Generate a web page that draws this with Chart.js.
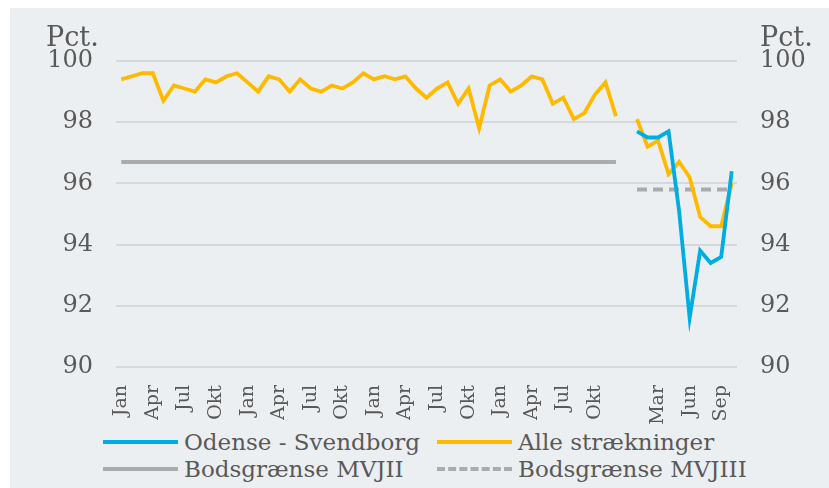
<!DOCTYPE html>
<html>
<head>
<meta charset="utf-8">
<script src="https://cdn.jsdelivr.net/npm/chart.js@4"></script>
<style>
  body { margin: 0; width: 829px; height: 488px; overflow: hidden; background: #fff; }
  #panel { position: absolute; left: 10px; top: 8px; width: 819px; height: 480px; background: #ECEFF2; }
  #wrap { position: absolute; left: 0; top: 0; width: 819px; height: 420px; }
  #legend { position: absolute; left: 0; top: 420px; width: 819px; height: 60px;
            font-family: "DejaVu Serif", serif; font-size: 23px; color: #595959; }
  .item { position: absolute; display: flex; align-items: center; height: 28px; }
  .swatch { width: 75px; height: 0; margin-right: 6px; }
</style>
</head>
<body>
<div id="panel">
  <div id="wrap"><canvas id="chart"></canvas></div>
  <div id="legend"></div>
</div>
<script>
// tick labels: 4 years of months, a blank slot, then Jan-Okt of year 5
var labels = [
  'Jan','','','Apr','','','Jul','','','Okt','','',
  'Jan','','','Apr','','','Jul','','','Okt','','',
  'Jan','','','Apr','','','Jul','','','Okt','','',
  'Jan','','','Apr','','','Jul','','','Okt','','',
  '',
  '','','Mar','','','Jun','','','Sep',''
];

var odenseSvendborg = [
  null,null,null,null,null,null,null,null,null,null,null,null,
  null,null,null,null,null,null,null,null,null,null,null,null,
  null,null,null,null,null,null,null,null,null,null,null,null,
  null,null,null,null,null,null,null,null,null,null,null,null,
  null,
  97.7,97.5,97.5,97.7,95.1,91.6,93.8,93.4,93.6,96.4
];

var alleStraekninger = [
  99.4,99.5,99.6,99.6,98.7,99.2,99.1,99.0,99.4,99.3,99.5,99.6,
  99.3,99.0,99.5,99.4,99.0,99.4,99.1,99.0,99.2,99.1,99.3,99.6,
  99.4,99.5,99.4,99.5,99.1,98.8,99.1,99.3,98.6,99.1,97.8,99.2,
  99.4,99.0,99.2,99.5,99.4,98.6,98.8,98.1,98.3,98.9,99.3,98.2,
  null,
  98.1,97.2,97.4,96.3,96.7,96.2,94.9,94.6,94.6,96.0
];

var bodsMVJII = [
  96.7,96.7,96.7,96.7,96.7,96.7,96.7,96.7,96.7,96.7,96.7,96.7,
  96.7,96.7,96.7,96.7,96.7,96.7,96.7,96.7,96.7,96.7,96.7,96.7,
  96.7,96.7,96.7,96.7,96.7,96.7,96.7,96.7,96.7,96.7,96.7,96.7,
  96.7,96.7,96.7,96.7,96.7,96.7,96.7,96.7,96.7,96.7,96.7,96.7,
  null,
  null,null,null,null,null,null,null,null,null,null
];

var bodsMVJIII = [
  null,null,null,null,null,null,null,null,null,null,null,null,
  null,null,null,null,null,null,null,null,null,null,null,null,
  null,null,null,null,null,null,null,null,null,null,null,null,
  null,null,null,null,null,null,null,null,null,null,null,null,
  null,
  95.8,95.8,95.8,95.8,95.8,95.8,95.8,95.8,95.8,95.8
];

var textColor = '#595959';
var serif = '"DejaVu Serif", serif';

// "Pct." above both y axes
var axisUnits = {
    id: 'axisUnits',
    afterDraw(chart) {
        let ctx = chart.ctx;
        ctx.save();
        ctx.font = '27px ' + serif;
        ctx.fillStyle = textColor;
        ctx.textBaseline = 'middle';
        ctx.textAlign = 'left';
        ctx.fillText('Pct.', 36, 31);
        ctx.fillText('Pct.', chart.scales.y2.left + 23, 31);
        ctx.restore();
    }
};

function lineSet(label, data, color, dash) {
    return {
        label: label,
        data: data,
        borderColor: color,
        backgroundColor: color,
        borderWidth: 3.8,
        borderDash: dash || [],
        pointRadius: 0,
        tension: 0,
        spanGaps: false
    };
}

const chart = new Chart(document.getElementById('chart'), {
    type: 'line',
    data: {
        labels: labels,
        datasets: [
            lineSet('Odense - Svendborg', odenseSvendborg, '#00ADE2'),
            lineSet('Alle strækninger', alleStraekninger, '#FFBA00'),
            lineSet('Bodsgrænse MVJII', bodsMVJII, '#ABABAB'),
            lineSet('Bodsgrænse MVJIII', bodsMVJIII, '#ABABAB', [10, 6])
        ]
    },
    options: {
        responsive: true,
        maintainAspectRatio: false,
        animation: false,
        layout: { padding: { top: 53, left: 0, right: 0, bottom: 0 } },
        plugins: {
            legend: { display: false },
            tooltip: { enabled: false }
        },
        scales: {
            x: {
                offset: true,
                grid: { display: false },
                border: { display: false },
                ticks: {
                    autoSkip: false,
                    maxRotation: 90,
                    minRotation: 90,
                    padding: 10,
                    color: textColor,
                    font: { family: serif, size: 19 }
                },
                afterFit(s) { s.height = 61; }
            },
            y: {
                position: 'left',
                min: 90,
                max: 100,
                grid: { color: '#D6D8DA', lineWidth: 2, drawTicks: false },
                border: { display: false },
                ticks: { stepSize: 2, padding: 23, color: textColor, font: { family: serif, size: 24 } },
                afterFit(s) { s.width = 106; }
            },
            y2: {
                position: 'right',
                min: 90,
                max: 100,
                grid: { display: false, drawTicks: false },
                border: { display: false },
                ticks: { stepSize: 2, padding: 23, color: textColor, font: { family: serif, size: 24 } },
                afterFit(s) { s.width = 92; }
            }
        }
    },
    plugins: [axisUnits]
});

// legend laid out in two aligned columns
var legendPos = [[93, 0], [427, 0], [93, 27], [427, 27]];
var legend = document.getElementById('legend');
chart.data.datasets.forEach((ds, i) => {
    let item = document.createElement('div');
    item.setAttribute('class', 'item');
    item.style.left = legendPos[i][0] + 'px';
    item.style.top = legendPos[i][1] + 'px';
    let sw = document.createElement('div');
    sw.setAttribute('class', 'swatch');
    sw.style.borderTop = '4px ' + (ds.borderDash.length ? 'dashed ' : 'solid ') + ds.borderColor;
    let txt = document.createElement('span');
    txt.textContent = ds.label;
    item.appendChild(sw);
    item.appendChild(txt);
    legend.appendChild(item);
});
</script>
</body>
</html>
